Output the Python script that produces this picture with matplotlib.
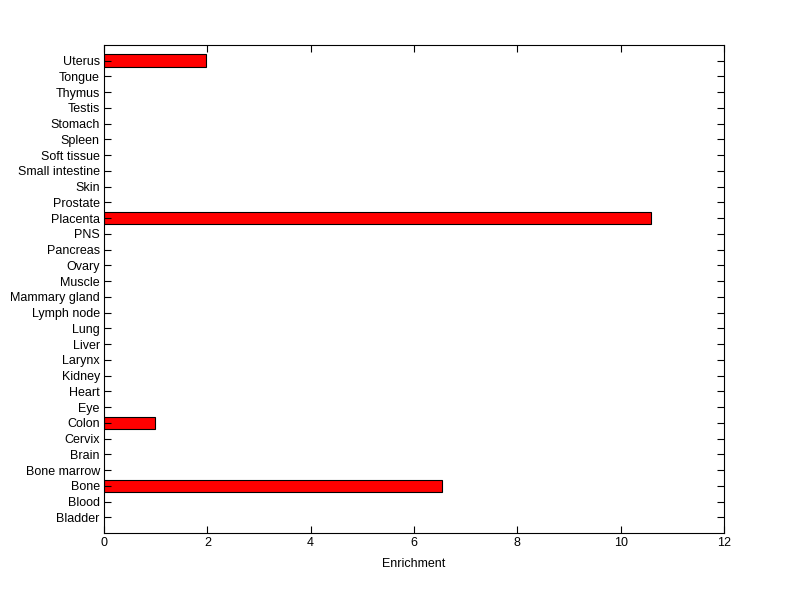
import numpy as np
import matplotlib.pyplot as plt

# tissues bottom -> top
tissues = ["Bladder", "Blood", "Bone", "Bone marrow", "Brain", "Cervix", "Colon", "Eye",
           "Heart", "Kidney", "Larynx", "Liver", "Lung", "Lymph node", "Mammary gland",
           "Muscle", "Ovary", "Pancreas", "PNS", "Placenta", "Prostate", "Skin",
           "Small intestine", "Soft tissue", "Spleen", "Stomach", "Testis", "Thymus",
           "Tongue", "Uterus"]
enrichment = [0, 0, 6.54, 0, 0, 0, 0.99, 0,
              0, 0, 0, 0, 0, 0, 0,
              0, 0, 0, 0, 10.58, 0, 0,
              0, 0, 0, 0, 0, 0,
              0, 1.98]

plt.rcParams['font.family'] = ['Liberation Sans', 'DejaVu Sans']

fig = plt.figure(figsize=(8, 5.99), dpi=100)
ax = fig.add_axes([0.13, 0.11, 0.775, 0.815])

pos = np.arange(1, len(tissues) + 1)
vals = np.array(enrichment)
nz = vals > 0
ax.barh(pos[nz], vals[nz], height=0.8, color="red", edgecolor="black", linewidth=0.8)

ax.set_xlim(0, 12)
ax.set_ylim(0, 31)
ax.set_xticks(range(0, 13, 2))
ax.set_yticks(pos)
ax.set_yticklabels(tissues)
ax.tick_params(direction="in", length=5, width=0.8, top=True, right=True, labelsize=9, pad=3)
for s in ax.spines.values():
    s.set_linewidth(0.8)
ax.set_xlabel("Enrichment", fontsize=9, labelpad=6)

fig.savefig("out.png", dpi=100)
